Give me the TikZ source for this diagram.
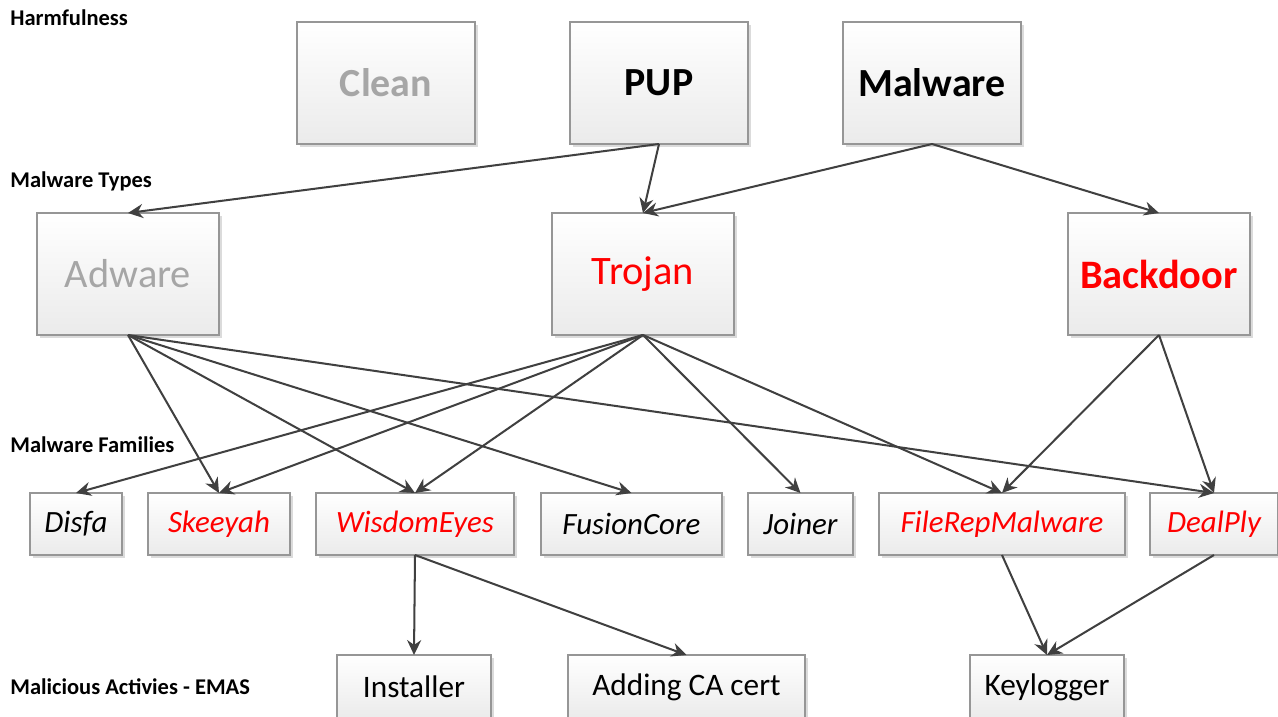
\documentclass[tikz,border=0pt]{standalone}
\usepackage{fontspec}
\setmainfont{Carlito}
\usepackage{xcolor}
\usepackage{tikz}
\usetikzlibrary{arrows.meta, positioning, shadows}

\definecolor{boxline}{HTML}{969696}
\definecolor{fadetext}{HTML}{A6A6A6}
\definecolor{hotred}{HTML}{FF0000}
\definecolor{linkgray}{HTML}{404040}

\begin{document}
\begin{tikzpicture}[
    box/.style={rectangle, draw=boxline, line width=0.6pt, top color=white, bottom color=black!8,
        drop shadow={shadow xshift=0.06cm, shadow yshift=-0.06cm, fill=black!14, opacity=1},
        inner sep=0pt, outer sep=0pt, align=center},
    harm/.style={box, minimum width=3.56cm, minimum height=2.44cm, font=\fontsize{22.7}{27}\selectfont\bfseries},
    mtype/.style={box, minimum width=3.64cm, minimum height=2.44cm, font=\fontsize{23}{27}\selectfont},
    family/.style={box, minimum height=1.24cm, font=\fontsize{17.6}{21}\selectfont\itshape},
    activity/.style={box, minimum height=1.28cm, font=\fontsize{17.8}{21}\selectfont},
    rowlabel/.style={anchor=west, inner sep=0pt, font=\fontsize{12.8}{15}\selectfont\bfseries},
    arrow/.style={-{Stealth[length=8.5pt, width=8pt]}, line width=1.15pt, draw=linkgray}
]
\useasboundingbox (0,0) rectangle (25.56,-14.34);

% row labels
\node[rowlabel] (lharm) at (0.2,-0.36) {Harmfulness};
\node[rowlabel] (ltype) at (0.2,-3.62) {Malware Types};
\node[rowlabel] (lfam) at (0.2,-8.9) {Malware Families};
\node[rowlabel] (lact) at (0.2,-13.74) {Malicious Activies - EMAS};

% harmfulness
\node[harm, text=fadetext] (clean) at (7.72,-1.66) {Clean};
\node[harm, right=1.9cm of clean] (pup) {PUP};
\node[harm, right=1.9cm of pup] (malware) {Malware};

% malware types
\node[mtype, text=fadetext] (adware) at (2.56,-5.48) {Adware};
\node[mtype, text=hotred] (trojan) at (12.86,-5.48) {Trojan};
\node[mtype, text=hotred, font=\fontsize{23}{27}\selectfont\bfseries] (backdoor) at (23.18,-5.48) {Backdoor};

% malware families
\node[family, minimum width=1.84cm, anchor=west] (disfa) at (0.6,-10.48) {Disfa};
\node[family, minimum width=2.84cm, text=hotred, right=0.52cm of disfa] (skeeyah) {Skeeyah};
\node[family, minimum width=3.96cm, text=hotred, right=0.52cm of skeeyah] (wisdom) {WisdomEyes};
\node[family, minimum width=3.62cm, right=0.54cm of wisdom] (fusion) {FusionCore};
\node[family, minimum width=2.1cm, right=0.52cm of fusion] (joiner) {Joiner};
\node[family, minimum width=4.92cm, text=hotred, right=0.52cm of joiner] (filerep) {FileRepMalware};
\node[family, minimum width=2.56cm, text=hotred, right=0.5cm of filerep] (dealply) {DealPly};

% malicious activities
\node[activity, minimum width=3.08cm] (installer) at (8.28,-13.74) {Installer};
\node[activity, minimum width=4.74cm, right=1.54cm of installer] (cacert) {Adding CA cert};
\node[activity, minimum width=3.08cm, right=3.3cm of cacert] (keylogger) {Keylogger};

\draw[arrow] (pup.south) -- (adware.north);
\draw[arrow] (pup.south) -- (trojan.north);
\draw[arrow] (malware.south) -- (trojan.north);
\draw[arrow] (malware.south) -- (backdoor.north);

\draw[arrow] (adware.south) -- (skeeyah.north);
\draw[arrow] (adware.south) -- (wisdom.north);
\draw[arrow] (adware.south) -- (fusion.north);
\draw[arrow] (adware.south) -- (dealply.north);
\draw[arrow] (trojan.south) -- (disfa.north);
\draw[arrow] (trojan.south) -- (skeeyah.north);
\draw[arrow] (trojan.south) -- (wisdom.north);
\draw[arrow] (trojan.south) -- (joiner.north);
\draw[arrow] (trojan.south) -- (filerep.north);
\draw[arrow] (backdoor.south) -- (filerep.north);
\draw[arrow] (backdoor.south) -- (dealply.north);

\draw[arrow] (wisdom.south) -- (installer.north);
\draw[arrow] (wisdom.south) -- (cacert.north);
\draw[arrow] (filerep.south) -- (keylogger.north);
\draw[arrow] (dealply.south) -- (keylogger.north);

\end{tikzpicture}
\end{document}
